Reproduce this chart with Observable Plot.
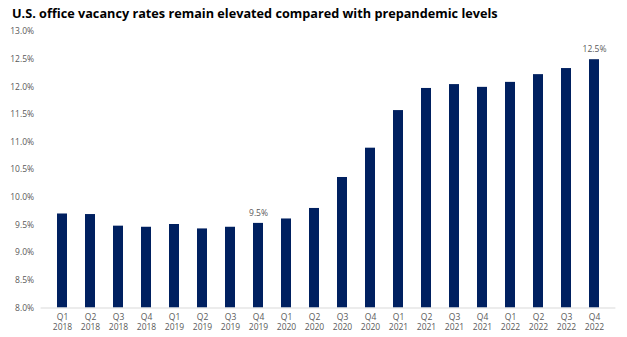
<!DOCTYPE html>
<html><head><meta charset="utf-8">
<script src="https://cdn.jsdelivr.net/npm/d3@7"></script>
<script src="https://cdn.jsdelivr.net/npm/@observablehq/plot@0.6"></script>
<style>
body{margin:0;background:#fff;width:627px;height:337px;overflow:hidden}
#title{font-family:"Open Sans",sans-serif;font-weight:700;font-size:12.7px;color:#000;height:26px;box-sizing:border-box;padding:4px 0 0 12px;line-height:18px;white-space:nowrap}
</style></head>
<body>
<div id="title">U.S. office vacancy rates remain elevated compared with prepandemic levels</div>
<div id="chart"></div>
<script>
const quarters = ["Q1","Q2","Q3","Q4","Q1","Q2","Q3","Q4","Q1","Q2","Q3","Q4","Q1","Q2","Q3","Q4","Q1","Q2","Q3","Q4"];
const years = ["2018","2018","2018","2018","2019","2019","2019","2019","2020","2020","2020","2020","2021","2021","2021","2021","2022","2022","2022","2022"];
const vacancy = [9.70,9.69,9.48,9.46,9.51,9.43,9.46,9.53,9.61,9.80,10.36,10.89,11.57,11.97,12.04,11.99,12.08,12.22,12.33,12.49];
const labelled = {"Q4 2019":"9.5%","Q4 2022":"12.5%"};
const yTicks = [8,8.5,9,9.5,10,10.5,11,11.5,12,12.5,13];

const data = quarters.map((q,i)=>({period:q+" "+years[i], q, yr:years[i], v:vacancy[i]}));
const order = data.map(d=>d.period);

const chart = Plot.plot({
  width:627, height:311,
  marginLeft:40.6, marginRight:11.6, marginTop:5, marginBottom:29.5,
  style:{fontFamily:"'Open Sans',sans-serif", fontSize:"8.5px", color:"#595959", background:"#fff"},
  x:{domain:order, paddingInner:0.66, paddingOuter:0.33, label:null},
  y:{domain:[8,13], label:null},
  marks:[
    Plot.barY(data,{x:"period", y1:8, y2:"v", fill:"#002060"}),
    Plot.ruleY([8],{stroke:"#d9d9d9"}),
    Plot.axisY({ticks:yTicks, tickSize:0, tickPadding:7, tickFormat:d=>d3.format(".1f")(d)+"%", label:null}),
    Plot.axisX({tickSize:0, tickPadding:4, tickFormat:d=>d.replace(" ","\n"), label:null, lineHeight:1.25}),
    Plot.text(data.filter(d=>labelled[d.period]),{x:"period", y:"v", text:d=>labelled[d.period], dy:-10, fill:"#595959"})
  ]
});
document.getElementById("chart").appendChild(chart);
</script>
</body></html>
